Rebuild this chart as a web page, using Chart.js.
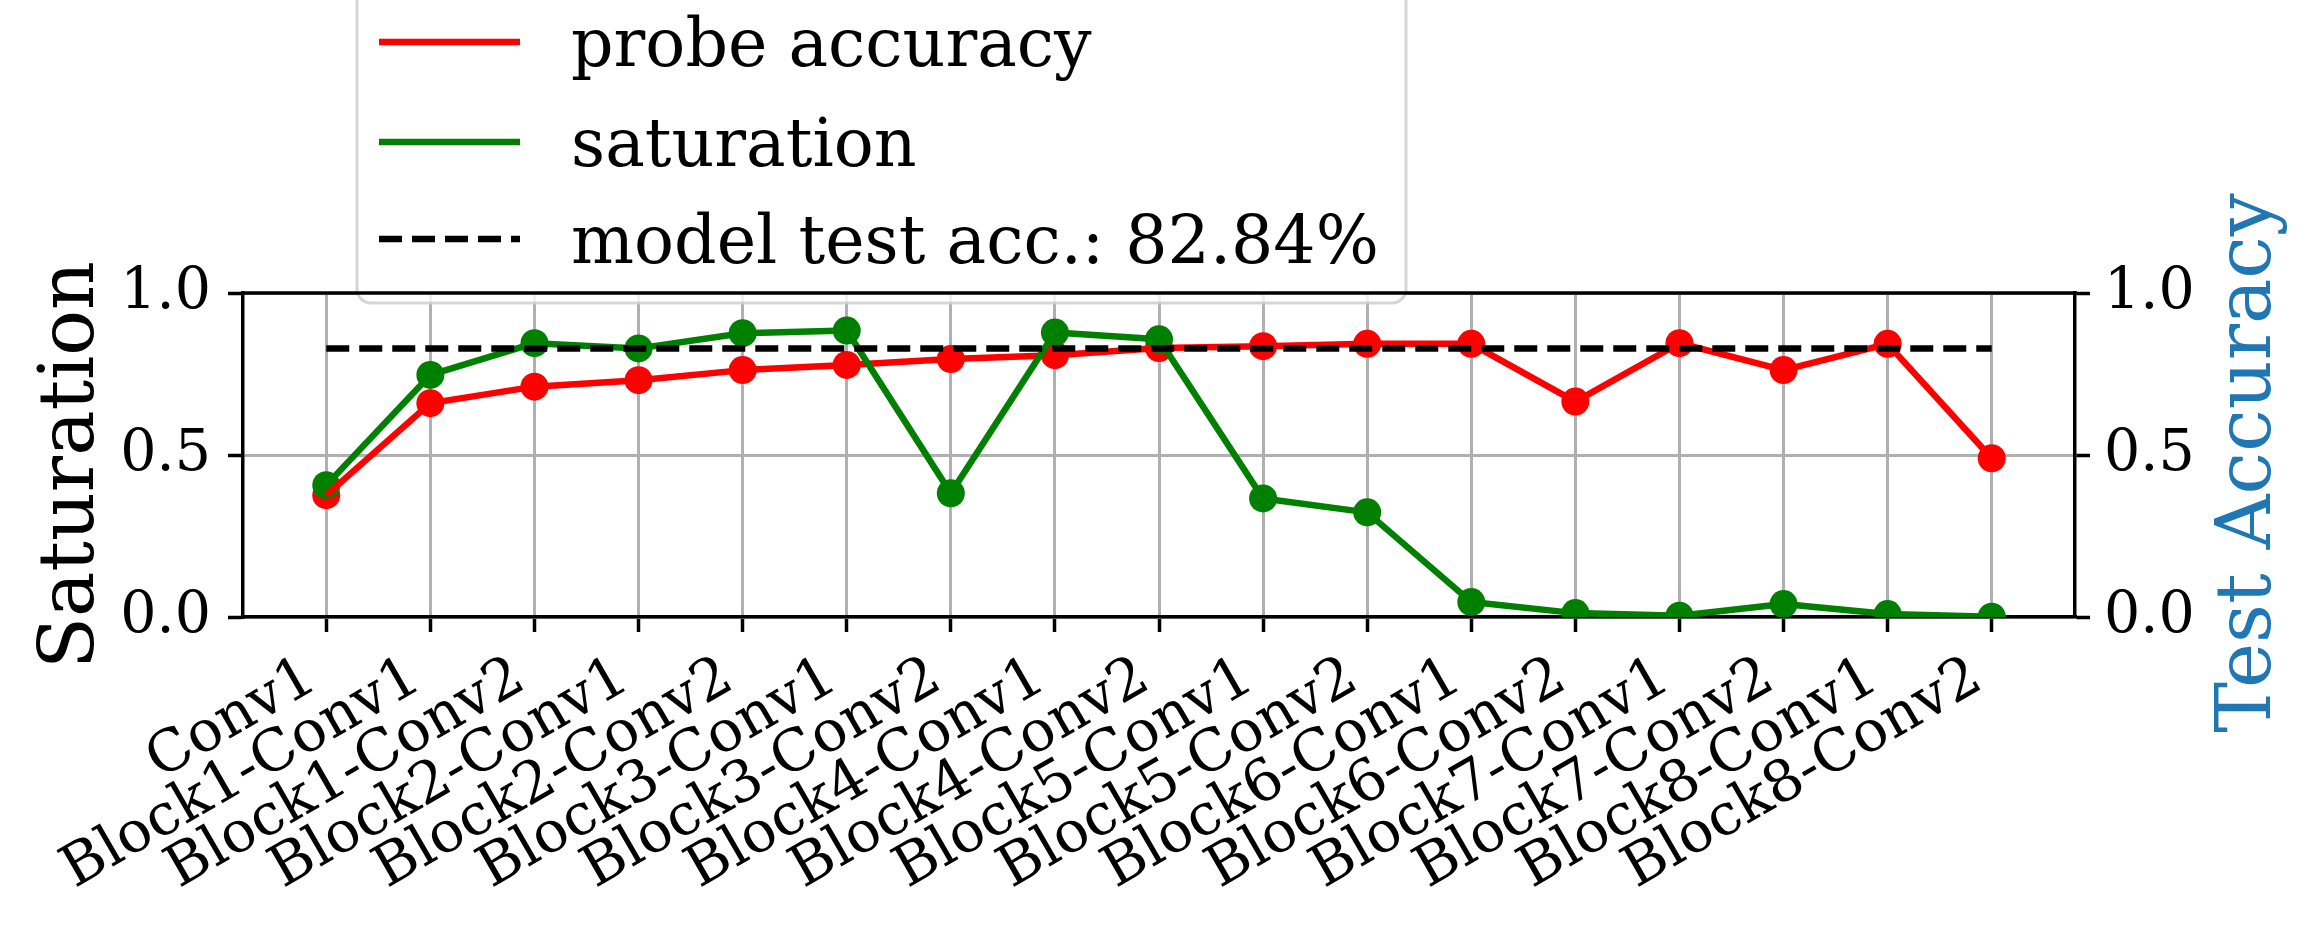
<!DOCTYPE html>
<html>
<head>
<meta charset="utf-8">
<script src="https://cdn.jsdelivr.net/npm/chart.js@4/dist/chart.umd.min.js"></script>
<style>
  html, body { margin: 0; padding: 0; background: #ffffff; }
  #wrap { width: 2315px; height: 929px; position: relative; }
</style>
</head>
<body>
<div id="wrap"><canvas id="c"></canvas></div>
<script>
// ---------------- data ----------------
const categories = ['Conv1', 'Block1-Conv1', 'Block1-Conv2', 'Block2-Conv1', 'Block2-Conv2',
  'Block3-Conv1', 'Block3-Conv2', 'Block4-Conv1', 'Block4-Conv2', 'Block5-Conv1',
  'Block5-Conv2', 'Block6-Conv1', 'Block6-Conv2', 'Block7-Conv1', 'Block7-Conv2',
  'Block8-Conv1', 'Block8-Conv2'];
const probeAccuracy = [0.376, 0.660, 0.711, 0.731, 0.762, 0.778, 0.796, 0.808, 0.830, 0.836,
  0.843, 0.843, 0.665, 0.845, 0.762, 0.843, 0.490];
const saturation = [0.407, 0.747, 0.845, 0.829, 0.876, 0.884, 0.382, 0.878, 0.857, 0.366,
  0.323, 0.046, 0.012, 0.004, 0.040, 0.009, 0.001];
const modelTestAcc = 0.8284;
const yTicks = [0, 0.5, 1.0];
const seriesLabels = ['probe accuracy', 'saturation', 'model test acc.: 82.84%'];
const leftTitle = 'Saturation';
const rightTitle = 'Test Accuracy';

// ---------------- style ----------------
const FONT = 'DejaVu Serif';
const RED = '#ff0000', GREEN = '#008000', BLUE = '#1f77b4';
const GRID = '#b0b0b0';
const LW = 6.5;

const toXY = arr => arr.map((v, i) => ({ x: i, y: v }));
const hline = categories.map((_, i) => ({ x: i, y: modelTestAcc }));

function drawVerticalTitle(ctx, text, xBase, yCenter, color) {
  ctx.save();
  ctx.translate(xBase, yCenter);
  ctx.rotate(-Math.PI / 2);
  ctx.font = '76px "' + FONT + '"';
  ctx.fillStyle = color;
  ctx.textAlign = 'center';
  ctx.textBaseline = 'alphabetic';
  ctx.fillText(text, 0, 0);
  ctx.restore();
}

const legendPlugin = {
  id: 'mplLegend',
  afterDraw(chart) {
    const ctx = chart.ctx;
    const a = chart.chartArea;
    ctx.save();
    // legend box (semi-transparent, overlapping top of axes)
    const bx0 = a.left + 114, bx1 = a.left + 1163, by0 = -22, by1 = a.top + 10;
    ctx.beginPath();
    ctx.roundRect(bx0, by0, bx1 - bx0, by1 - by0, 14);
    ctx.fillStyle = 'rgba(255,255,255,0.8)';
    ctx.fill();
    ctx.lineWidth = 3;
    ctx.strokeStyle = 'rgba(204,204,204,0.8)';
    ctx.stroke();
    const rows = [42, 142, 239];
    const styles = [
      { c: RED, dash: [] },
      { c: GREEN, dash: [] },
      { c: '#000000', dash: [23, 10] }
    ];
    ctx.font = '66.5px "' + FONT + '"';
    ctx.textBaseline = 'alphabetic';
    ctx.textAlign = 'left';
    for (let i = 0; i < 3; i++) {
      const y = rows[i];
      ctx.beginPath();
      ctx.setLineDash(styles[i].dash);
      ctx.lineWidth = LW;
      ctx.strokeStyle = styles[i].c;
      ctx.moveTo(bx0 + 22, y);
      ctx.lineTo(bx0 + 163, y);
      ctx.stroke();
      ctx.setLineDash([]);
      ctx.fillStyle = '#000000';
      ctx.fillText(seriesLabels[i], bx0 + 214, y + 24);
    }
    // top spine (twin axes spines drawn over the legend)
    ctx.beginPath();
    ctx.lineWidth = 3.5;
    ctx.strokeStyle = '#000000';
    ctx.moveTo(a.left - 1.75, a.top);
    ctx.lineTo(a.right + 1.75, a.top);
    ctx.stroke();
    ctx.restore();
    // axis titles, reading bottom-to-top
    const yMid = (a.top + a.bottom) / 2;
    drawVerticalTitle(ctx, leftTitle, 93, yMid + 10, '#000000');
    drawVerticalTitle(ctx, rightTitle, 2270, yMid + 8, BLUE);
  }
};

new Chart(document.getElementById('c'), {
  type: 'line',
  data: {
    datasets: [
      { label: seriesLabels[0] + ' markers', data: toXY(probeAccuracy), showLine: false,
        pointRadius: 14, pointBackgroundColor: RED, pointBorderWidth: 0, borderColor: RED, order: 5, yAxisID: 'y' },
      { label: seriesLabels[1] + ' markers', data: toXY(saturation), showLine: false,
        pointRadius: 14, pointBackgroundColor: GREEN, pointBorderWidth: 0, borderColor: GREEN, order: 4, yAxisID: 'y' },
      { label: seriesLabels[0], data: toXY(probeAccuracy), borderColor: RED, borderWidth: LW,
        pointRadius: 0, borderJoinStyle: 'round', tension: 0, fill: false, order: 3, yAxisID: 'y' },
      { label: seriesLabels[1], data: toXY(saturation), borderColor: GREEN, borderWidth: LW,
        pointRadius: 0, borderJoinStyle: 'round', tension: 0, fill: false, order: 2, yAxisID: 'y' },
      { label: seriesLabels[2], data: hline, borderColor: '#000000', borderWidth: LW,
        borderDash: [23, 10], pointRadius: 0, tension: 0, fill: false, order: 1, yAxisID: 'y' }
    ]
  },
  options: {
    responsive: true,
    maintainAspectRatio: false,
    animation: false,
    devicePixelRatio: 1,
    layout: { padding: { top: 293, left: 0, right: 0, bottom: 0 } },
    plugins: { legend: { display: false }, tooltip: { enabled: false } },
    scales: {
      x: {
        type: 'linear',
        min: -0.8,
        max: categories.length - 1 + 0.8,
        afterBuildTicks: s => { s.ticks = categories.map((_, i) => ({ value: i })); },
        afterFit: s => { s.height = 312; },
        grid: { color: GRID, lineWidth: 3, tickColor: '#000000', tickWidth: 3.5, tickLength: 15 },
        border: { display: true, color: '#000000', width: 3.5 },
        ticks: {
          autoSkip: false, minRotation: 30, maxRotation: 30, padding: 12, labelOffset: -14,
          color: '#000000', font: { family: FONT, size: 57.5 },
          callback: v => categories[v] ?? ''
        }
      },
      y: {
        position: 'left',
        min: 0, max: 1,
        afterBuildTicks: s => { s.ticks = yTicks.map(v => ({ value: v })); },
        afterFit: s => { s.width = 243; },
        grid: { color: GRID, lineWidth: 3, tickColor: '#000000', tickWidth: 3.5, tickLength: 15 },
        border: { display: true, color: '#000000', width: 3.5 },
        ticks: { color: '#000000', padding: 17, font: { family: FONT, size: 57 },
          callback: v => Number(v).toFixed(1) },
        title: { display: false }
      },
      y1: {
        position: 'right',
        min: 0, max: 1,
        afterBuildTicks: s => { s.ticks = yTicks.map(v => ({ value: v })); },
        afterFit: s => { s.width = 240; },
        grid: { drawOnChartArea: false, tickColor: '#000000', tickWidth: 3.5, tickLength: 15 },
        border: { display: true, color: '#000000', width: 3.5 },
        ticks: { color: '#000000', padding: 14, font: { family: FONT, size: 57 },
          callback: v => Number(v).toFixed(1) }
      }
    }
  },
  plugins: [legendPlugin]
});
</script>
</body>
</html>
